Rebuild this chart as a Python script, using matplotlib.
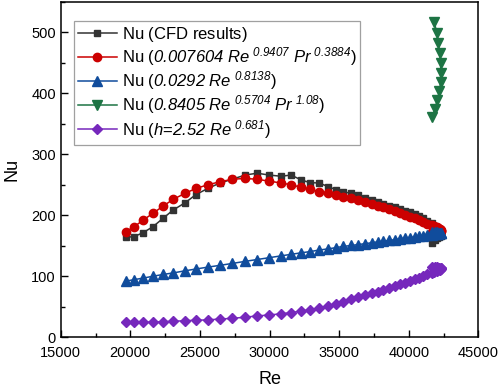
import numpy as np
import matplotlib
matplotlib.use("Agg")
import matplotlib.pyplot as plt
from matplotlib.ticker import MultipleLocator

plt.rcParams['font.family'] = ['Liberation Sans', 'DejaVu Sans']
plt.rcParams['mathtext.fontset'] = 'custom'
# everything inside $...$ in the legend is italic in the original
plt.rcParams['mathtext.rm'] = 'Liberation Sans:italic'
plt.rcParams['mathtext.it'] = 'Liberation Sans:italic'

#%% data

re = [19670, 20266, 20912, 21609, 22350, 23069, 23931, 24721, 25561, 26450,
      27312, 28246, 29108, 29970, 30832, 31551, 32269, 32915, 33562, 34208,
      34783, 35286, 35861, 36364, 36867, 37342, 37774, 38176, 38607, 39017,
      39376, 39735, 40094, 40454, 40762, 41049, 41337, 41653, 41840, 42012,
      42127, 42227, 42299, 42299, 42299, 42199, 42055, 41890, 41653]

nu_cfd = [164, 165, 171.5, 181, 195, 208.5, 220.5, 234, 244, 253,
          259, 266, 269, 266, 264, 266, 258, 253.5, 253, 247,
          242, 238.5, 236, 233, 229, 225.5, 222, 219, 216, 213,
          210, 207.5, 205, 202, 198.5, 195, 191, 187, 183, 179,
          175, 172, 170, 168, 166, 165, 163, 160, 154]

nu_fit1 = [173, 181, 192, 203, 215, 226, 236, 244, 250, 255,
           259, 260.5, 259, 256, 253, 250, 246, 242.5, 239, 236,
           233, 230.5, 228, 225, 222, 219, 216, 213, 210, 207,
           204, 201, 198, 195, 192, 189, 186.5, 184, 182, 180,
           178.5, 177, 176, 175, 174.5, 174, 173.5, 173, 172.5]

nu_fit2 = [92, 94.5, 97, 100, 103, 105.5, 109, 112, 115, 118,
           121, 124.5, 127.5, 130.5, 133.5, 136, 138.5, 140.5, 143, 145,
           147, 149, 150.5, 152, 153.5, 155, 156.5, 157.5, 159, 160,
           161.5, 162.5, 163.5, 164.5, 165.5, 166.5, 167.5, 168.5, 169, 169.5,
           170, 170.5, 171, 171, 171, 171.5, 172, 172, 172]

# only the last points of this one fall inside the plot
nu_fit3 = [517, 499, 482, 466, 449, 433, 418, 403, 389, 374, 361]

nu_fit4 = [24.6, 24.6, 24.8, 25, 25.6, 26.2, 27.2, 28, 28.5, 30,
           31, 33, 35, 36.6, 38.5, 40.5, 43, 45, 47.5, 50.5,
           54, 58, 62, 65.5, 69, 72, 75, 77.5, 81, 84,
           87, 89.5, 92, 95, 98, 100.5, 103, 106, 107, 109,
           110, 111, 112, 113, 113.5, 114, 115, 116, 116]

labels = [r'Nu (CFD results)$^{\ }$',
          r'Nu ($0.007604\ Re^{\ 0.9407}\ Pr^{\ 0.3884}$)',
          r'Nu ($0.0292\ Re^{\ 0.8138}$)',
          r'Nu ($0.8405\ Re^{\ 0.5704}\ Pr^{\ 1.08}$)',
          r'Nu ($h$=$2.52\ Re^{\ 0.681}$)']

#%%

fig = plt.figure(figsize=(5.0, 3.89), dpi=100)
ax = fig.add_axes([0.1214, 0.1329, 0.8352, 0.8625])

re = np.array(re)
ax.plot(re, nu_cfd, color='#333333', marker='s', ms=5, lw=1.1, label=labels[0])
ax.plot(re, nu_fit1, color='#cc0000', marker='o', ms=6, lw=1.1, label=labels[1])
ax.plot(re, nu_fit2, color='#104c9c', marker='^', ms=6.5, lw=1.1, label=labels[2])
ax.plot(re[-len(nu_fit3):], nu_fit3, color='#1d7444', marker='v', ms=6.5, lw=1.1, label=labels[3])
ax.plot(re, nu_fit4, color='#7628bc', marker='D', ms=5, lw=1.1, label=labels[4])

ax.set_xlim(15000, 45000)
ax.set_ylim(0, 550)
ax.xaxis.set_major_locator(MultipleLocator(5000))
ax.xaxis.set_minor_locator(MultipleLocator(2500))
ax.yaxis.set_major_locator(MultipleLocator(100))
ax.yaxis.set_minor_locator(MultipleLocator(50))
ax.tick_params(which='both', direction='in', top=False, right=False, labelsize=10.5)
ax.tick_params(which='major', length=5, width=1)
ax.tick_params(which='minor', length=3, width=1)
ax.tick_params(axis='x', pad=6)
for sp in ax.spines.values():
    sp.set_linewidth(1.1)

ax.set_xlabel('Re', fontsize=13, labelpad=8)
ax.set_ylabel('Nu', fontsize=13, labelpad=8)

leg = ax.legend(loc='upper left', bbox_to_anchor=(0.032, 0.944), fontsize=12,
                frameon=True, fancybox=False, edgecolor='#888888',
                handlelength=2.3, handletextpad=0.3, labelspacing=0.08,
                borderpad=0.25, borderaxespad=0)
leg.get_frame().set_linewidth(0.9)

plt.savefig('out.png', dpi=100)
